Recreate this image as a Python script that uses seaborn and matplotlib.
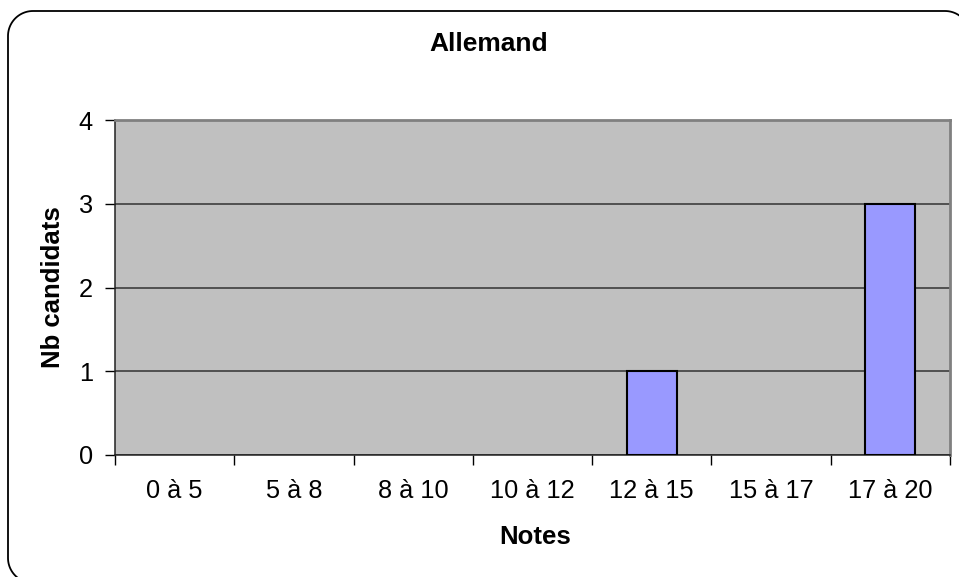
import matplotlib
matplotlib.use("Agg")
import matplotlib.pyplot as plt
import numpy as np
import seaborn as sns
from matplotlib.lines import Line2D

# data
categories = ["0 à 5", "5 à 8", "8 à 10", "10 à 12", "12 à 15", "15 à 17", "17 à 20"]
counts = [0, 0, 0, 0, 1, 0, 3]
y_ticks = [0, 1, 2, 3, 4]

title = "Allemand"
x_label = "Notes"
y_label = "Nb candidats"

sns.set_style("white")
plt.rcParams["font.family"] = ["Liberation Sans", "DejaVu Sans"]
plt.rcParams["text.color"] = "black"
plt.rcParams["xtick.color"] = "black"
plt.rcParams["ytick.color"] = "black"
plt.rcParams["axes.labelcolor"] = "black"

W, H = 959, 577
fig = plt.figure(figsize=(W / 100, H / 100), dpi=100)
fig.patch.set_facecolor("white")

# plot area in pixels: x 115..950, y 120..455 (from top)
ax = fig.add_axes([115 / W, (H - 455) / H, 835 / W, 335 / H])
ax.set_facecolor("#C0C0C0")

sns.barplot(x=categories, y=counts, ax=ax, color="#9999FF", saturation=1,
            width=0.42, edgecolor="black", linewidth=1.5, zorder=3)

# empty classes: no outline drawn along the axis
for bar in ax.patches:
    if bar.get_height() == 0:
        bar.set_linewidth(0)

ax.set_ylim(0, 4)
ax.set_xlim(-0.5, len(categories) - 0.5)
ax.set_yticks(y_ticks)
ax.set_yticklabels([str(v) for v in y_ticks])

# category ticks sit between the groups, labels stay centred
ax.set_xticks([i - 0.5 for i in range(len(categories) + 1)], minor=False)
ax.set_xticklabels([""] * (len(categories) + 1))
ax.set_xticks(range(len(categories)), minor=True)
ax.set_xticklabels(categories, minor=True)
ax.tick_params(axis="x", which="major", direction="out", length=7, width=1,
               color="black", bottom=True)
ax.tick_params(axis="x", which="minor", length=0, pad=17, labelsize=18.3)
ax.tick_params(axis="y", direction="out", length=7, width=1, color="black",
               pad=9, labelsize=18.3, left=True)

ax.yaxis.grid(True, color="#333333", linewidth=1.1, zorder=1)
ax.xaxis.grid(False)
ax.set_axisbelow(True)

for side in ["left", "bottom"]:
    ax.spines[side].set_color("#222222")
    ax.spines[side].set_linewidth(1.1)
for side in ["top", "right"]:
    ax.spines[side].set_visible(True)
    ax.spines[side].set_color("#808080")
    ax.spines[side].set_linewidth(2)

ax.set_xlabel(x_label, fontsize=18.5, fontweight="bold")
ax.set_ylabel(y_label, fontsize=18.5, fontweight="bold")
ax.xaxis.set_label_coords((535 - 115) / 835, ((H - 537) - (H - 455)) / 335)
ax.xaxis.label.set_va("center")
ax.yaxis.set_label_coords((53 - 115) / 835, 0.5)
ax.yaxis.label.set_va("center")

fig.text(489 / W, 1 - 44 / H, title, ha="center", va="center",
         fontsize=19, fontweight="bold")


# rounded chart border: only the left/top part is inside the picture,
# so draw it as an open line (pixels, origin bottom-left)
def arc(cx, cy, r, a0, a1, n=24):
    t = np.radians(np.linspace(a0, a1, n))
    return cx + r * np.cos(t), cy + r * np.sin(t)


r = 25
left, right, top, bottom = 8, 970, H - 11, -6
pieces = [
    arc(left + r, bottom + r, r, 270, 180),
    arc(left + r, top - r, r, 180, 90),
    arc(right - r, top - r, r, 90, 0),
]
bx = np.concatenate([p[0] for p in pieces] + [[right]])
by = np.concatenate([p[1] for p in pieces] + [[top - r - 60]])
fig.add_artist(Line2D(bx / 100, by / 100, transform=fig.dpi_scale_trans,
                      color="black", linewidth=1.3, solid_joinstyle="round"))

fig.savefig("out.png", dpi=100)
